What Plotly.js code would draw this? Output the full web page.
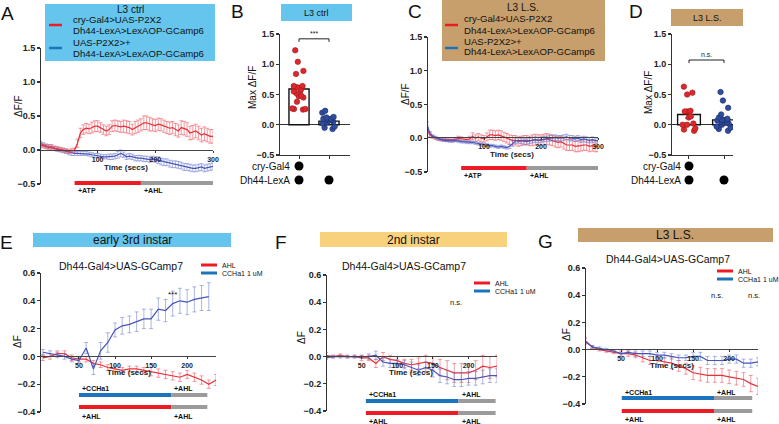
<!DOCTYPE html>
<html>
<head>
<meta charset="utf-8">
<script src="https://cdn.plot.ly/plotly-3.0.1.min.js"></script>
<style>html,body{margin:0;padding:0;background:#fff}#fig{width:779px;height:424px}</style>
</head>
<body>
<div id="fig"></div>
<script>
// ---- data ----
// A / C: time course, sampled every 5 s from 0 to 300 s
const tAC = Array.from({length: 61}, (_, i) => i * 5);

const aRed = [0.08,0.06,0.05,0.04,0.05,0.03,0.02,0.01,0.00,-0.01,-0.02,-0.01,0.00,
  0.10,0.25,0.30,0.32,0.31,0.33,0.35,0.35,0.33,0.30,
  0.28,0.30,0.35,0.36,0.35,0.34,0.35,0.34,0.33,0.30,
  0.33,0.35,0.37,0.40,0.40,0.38,0.37,0.36,0.38,0.37,
  0.35,0.33,0.32,0.33,0.30,0.28,0.33,0.32,0.30,0.25,
  0.26,0.28,0.25,0.22,0.24,0.22,0.20,0.20];
const aRedErr = [0.04,0.03,0.03,0.03,0.03,0.03,0.03,0.03,0.03,0.03,0.03,0.03,0.03,
  0.06,0.07,0.07,0.07,0.07,0.08,0.08,0.08,0.07,0.07,
  0.07,0.07,0.08,0.08,0.08,0.08,0.09,0.09,0.09,0.08,
  0.09,0.09,0.09,0.10,0.10,0.10,0.09,0.09,0.09,0.09,
  0.09,0.09,0.09,0.09,0.09,0.09,0.10,0.10,0.10,0.10,
  0.10,0.10,0.10,0.10,0.10,0.10,0.10,0.10];
const aBlue = [0.10,0.08,0.06,0.05,0.03,0.02,0.01,0.00,-0.01,-0.02,
  -0.04,-0.05,-0.05,-0.05,-0.05,-0.05,-0.05,-0.06,-0.07,-0.08,
  -0.08,-0.09,-0.10,-0.10,-0.10,-0.10,-0.09,-0.07,-0.05,-0.07,
  -0.10,-0.09,-0.10,-0.12,-0.12,-0.12,-0.13,-0.13,-0.14,-0.13,
  -0.14,-0.15,-0.17,-0.18,-0.18,-0.20,-0.21,-0.21,-0.22,-0.23,
  -0.25,-0.25,-0.26,-0.27,-0.27,-0.26,-0.25,-0.27,-0.26,-0.25,
  -0.24];
const aBlueErr = [0.03,0.03,0.03,0.03,0.03,0.03,0.03,0.03,0.03,0.03,
  0.03,0.03,0.03,0.03,0.03,0.03,0.03,0.03,0.03,0.03,
  0.03,0.03,0.03,0.03,0.04,0.04,0.04,0.05,0.05,0.04,
  0.04,0.04,0.04,0.04,0.04,0.04,0.04,0.04,0.04,0.04,
  0.04,0.05,0.05,0.05,0.05,0.05,0.05,0.05,0.05,0.05,
  0.05,0.05,0.05,0.05,0.05,0.05,0.05,0.05,0.05,0.05,
  0.05];

const cRed = [0.15,0.05,0.02,0.00,-0.01,-0.02,-0.02,-0.03,-0.03,-0.03,
  -0.02,0.00,-0.01,-0.02,-0.02,-0.01,0.03,0.00,0.02,0.00,
  -0.01,0.02,0.05,0.05,0.04,0.05,0.04,0.02,0.00,-0.02,
  -0.03,-0.03,-0.05,-0.04,-0.03,-0.03,-0.04,-0.03,-0.02,-0.03,
  -0.03,-0.02,-0.01,-0.02,-0.03,-0.05,-0.06,-0.05,-0.08,-0.10,
  -0.10,-0.10,-0.12,-0.12,-0.11,-0.10,-0.10,-0.12,-0.11,-0.12,
  -0.12];
const cRedErr = [0.04,0.03,0.02,0.02,0.02,0.02,0.02,0.02,0.02,0.02,
  0.02,0.03,0.03,0.03,0.03,0.04,0.05,0.05,0.05,0.05,
  0.05,0.06,0.07,0.07,0.07,0.07,0.07,0.07,0.07,0.07,
  0.07,0.07,0.07,0.07,0.07,0.07,0.07,0.08,0.08,0.08,
  0.08,0.08,0.08,0.08,0.08,0.08,0.08,0.08,0.08,0.08,
  0.08,0.08,0.08,0.08,0.08,0.08,0.08,0.08,0.08,0.08,
  0.08];
const cBlue = [0.20,0.08,0.03,0.01,-0.01,-0.02,-0.03,-0.03,-0.04,-0.04,
  -0.03,-0.04,-0.05,-0.05,-0.06,-0.06,-0.06,-0.07,-0.08,-0.09,
  -0.10,-0.10,-0.11,-0.11,-0.12,-0.13,-0.12,-0.13,-0.14,-0.12,
  -0.08,-0.04,-0.03,-0.04,-0.05,-0.05,-0.04,-0.03,-0.02,-0.03,
  -0.02,-0.01,-0.01,0.00,0.00,0.01,0.00,0.00,0.01,0.02,
  0.00,0.00,-0.01,0.00,-0.02,-0.01,-0.02,-0.03,-0.02,-0.03,
  -0.04];
const cBlueErr = [0.04,0.02,0.02,0.02,0.02,0.02,0.02,0.02,0.02,0.02,
  0.02,0.02,0.02,0.02,0.02,0.02,0.02,0.02,0.02,0.02,
  0.02,0.02,0.02,0.02,0.02,0.02,0.02,0.02,0.02,0.03,
  0.04,0.04,0.04,0.04,0.04,0.04,0.04,0.04,0.04,0.04,
  0.04,0.04,0.04,0.04,0.04,0.04,0.04,0.04,0.04,0.04,
  0.04,0.04,0.04,0.04,0.04,0.04,0.04,0.04,0.04,0.04,
  0.04];

// B / D: max dF/F per animal, bar = mean, error = SEM
const groups = [0, 1];
const bMean = [0.59, 0.06];
const bSem = [0.06, 0.02];
const bRed = [1.23,1.04,0.89,0.84,0.64,0.64,0.62,0.58,0.55,0.52,0.48,0.47,0.45,0.38,0.27,0.26,0.26,0.25];
const bBlue = [0.23,0.20,0.13,0.12,0.10,0.10,0.09,0.08,0.07,0.05,0.04,0.02,-0.03,-0.05,-0.07];
const dMean = [0.17, 0.08];
const dSem = [0.06, 0.04];
const dRed = [0.63,0.53,0.50,0.23,0.22,0.22,0.14,0.12,0.02,0.00,0.00,-0.06,-0.08,-0.10];
const dBlue = [0.54,0.40,0.28,0.17,0.12,0.10,0.08,0.08,0.07,0.05,0.04,0.03,0.02,0.00,-0.03,-0.05,-0.07,-0.10];
const genoRows = ['cry-Gal4', 'Dh44-LexA'];
const genoMatrix = [[1, 0], [1, 1]];

// E / F / G: every 10 s, 0..240 s
const tEFG = [0,10,20,30,40,50,60,70,80,90,100,110,120,130,140,150,160,170,180,190,200,210,220,230,240];
const eRed = [-0.01,0.00,0.02,0.02,-0.01,-0.02,-0.02,-0.05,-0.06,-0.08,-0.09,-0.10,-0.09,-0.09,-0.10,-0.11,-0.12,-0.13,-0.14,-0.15,-0.13,-0.15,-0.17,-0.20,-0.17];
const eRedErr = [0.02,0.02,0.02,0.02,0.02,0.02,0.02,0.02,0.02,0.02,0.02,0.02,0.02,0.02,0.02,0.03,0.03,0.03,0.03,0.03,0.03,0.03,0.03,0.03,0.04];
const eBlue = [0.03,0.02,0.01,0.00,-0.02,-0.03,0.06,-0.09,0.04,0.10,0.19,0.22,0.23,0.25,0.27,0.27,0.34,0.33,0.38,0.40,0.39,0.41,0.42,0.43,null];
const eBlueErr = [0.02,0.02,0.02,0.02,0.02,0.02,0.04,0.04,0.06,0.07,0.05,0.06,0.06,0.07,0.07,0.07,0.08,0.08,0.09,0.09,0.09,0.09,0.09,0.10,null];
const fRed = [0.01,0.00,0.01,0.00,0.00,-0.01,-0.01,-0.05,0.00,-0.02,-0.03,-0.05,-0.06,-0.05,-0.04,-0.05,-0.08,-0.10,-0.12,-0.12,-0.12,-0.10,-0.07,-0.08,-0.07];
const fRedErr = [0.02,0.01,0.01,0.01,0.01,0.02,0.02,0.03,0.03,0.03,0.03,0.03,0.04,0.04,0.05,0.05,0.06,0.07,0.07,0.07,0.07,0.07,0.08,0.08,0.08];
const fBlue = [-0.01,0.00,0.00,0.00,0.00,0.00,0.00,0.01,-0.04,-0.05,-0.05,-0.06,-0.08,-0.10,-0.08,-0.10,-0.14,-0.15,-0.17,-0.17,-0.16,-0.16,-0.15,-0.14,-0.14];
const fBlueErr = [0.01,0.01,0.01,0.01,0.01,0.01,0.02,0.03,0.03,0.03,0.03,0.03,0.04,0.04,0.04,0.05,0.05,0.05,0.05,0.05,0.05,0.05,0.05,0.05,0.05];
const gRed = [0.07,0.02,0.00,-0.01,-0.02,-0.03,-0.03,-0.04,-0.06,-0.08,-0.08,-0.09,-0.10,-0.12,-0.14,-0.17,-0.18,-0.19,-0.19,-0.19,-0.20,-0.21,-0.22,-0.25,-0.27];
const gRedErr = [0.02,0.01,0.01,0.01,0.01,0.02,0.02,0.02,0.03,0.03,0.03,0.03,0.04,0.04,0.04,0.05,0.05,0.05,0.05,0.05,0.05,0.05,0.05,0.06,0.06];
const gBlue = [0.06,0.02,0.01,0.00,-0.01,-0.03,-0.02,-0.03,-0.03,-0.03,-0.04,-0.04,-0.05,-0.06,-0.06,-0.05,-0.05,-0.08,-0.08,-0.08,-0.07,-0.07,-0.10,-0.10,-0.09];
const gBlueErr = [0.02,0.01,0.01,0.01,0.01,0.01,0.01,0.02,0.02,0.02,0.02,0.02,0.02,0.02,0.02,0.03,0.03,0.03,0.03,0.03,0.03,0.03,0.03,0.03,0.03];

// stimulus windows (s)
const stimAC = [60, 175, 300];
const stimE = [50, 178, 228];
const stimF = [56, 186, 238];
const stimG = [51, 179, 232];

// ---- helpers ----
const W = 779, H = 424;
const FONT = 'Liberation Sans, Arial, Helvetica, sans-serif';
const px = v => v / W;
const py = v => 1 - v / H;
const hdom = (a, b) => [a / W, b / W];
const vdom = (top, bot) => [1 - bot / H, 1 - top / H];

const RED = '#e8303a', RED_ERR = 'rgba(238,90,100,0.6)';
const BLUE = '#4654b8', BLUE_ERR = 'rgba(105,120,205,0.55)';
const LEG_RED = '#ed1c24', LEG_BLUE = '#1c75bc', GREY = '#9b9b9b';
const SKY = '#66c5ec', TAN = '#c79f6d', SAND = '#f8d17c';

function yAx(domain, range, xpos, tickvals) {
  return {domain: domain, range: range, anchor: 'free', position: px(xpos), tickvals: tickvals,
    tickformat: '.1f', ticks: 'outside', ticklen: 3, tickwidth: 1.2, tickcolor: '#333',
    showline: true, linecolor: '#333', linewidth: 1.3, showgrid: false, zeroline: false,
    tickfont: {family: FONT, size: 9, color: '#222', weight: 'bold'}};
}
function xTime(domain, range, ypos, tickvals) {
  return {domain: domain, range: range, anchor: 'free', position: py(ypos), tickvals: tickvals,
    ticks: 'outside', ticklen: 2, tickwidth: 1, tickcolor: '#333',
    showline: true, linecolor: '#444', linewidth: 1.2, showgrid: false, zeroline: false,
    tickfont: {family: FONT, size: 7, color: '#222', weight: 'bold'}};
}
function xBar(domain, range, yname) {
  return {domain: domain, range: range, anchor: yname, tickvals: groups, showticklabels: false,
    ticks: 'outside', ticklen: 3, tickcolor: '#333', showline: true, linecolor: '#333',
    linewidth: 1.3, showgrid: false, zeroline: false};
}
function trace(t, y, err, color, errColor, xa, ya) {
  return {type: 'scatter', mode: 'lines', x: t, y: y, xaxis: xa, yaxis: ya,
    line: {color: color, width: 1.2}, showlegend: false, hoverinfo: 'skip',
    error_y: {type: 'data', array: err, color: errColor, thickness: 1, width: 2}};
}
function dots(vals, x0, fill, edge, xa, ya) {
  return {type: 'box', y: vals, x0: x0, xaxis: xa, yaxis: ya, boxpoints: 'all', jitter: 0.9,
    pointpos: 0, width: 0.62, fillcolor: 'rgba(0,0,0,0)', line: {color: 'rgba(0,0,0,0)', width: 0},
    marker: {color: fill, size: 5.5, line: {color: edge, width: 0.6}},
    showlegend: false, hoverinfo: 'skip'};
}
function bars(mean, sem, xa, ya, w) {
  return {type: 'bar', x: groups, y: mean, width: w, xaxis: xa, yaxis: ya,
    marker: {color: '#fff', line: {color: '#111', width: 1.4}}, showlegend: false, hoverinfo: 'skip',
    error_y: {type: 'data', array: sem, color: '#444', thickness: 1, width: 4}};
}
function geno(xa, ya) {
  const xs = [], ys = [];
  genoMatrix.forEach((row, r) => row.forEach((on, g) => {
    if (on) { xs.push(groups[g]); ys.push(genoMatrix.length - 1 - r); }
  }));
  return {type: 'scatter', mode: 'markers', x: xs, y: ys, xaxis: xa, yaxis: ya,
    marker: {color: '#000', size: 9}, showlegend: false, hoverinfo: 'skip'};
}

const traces = [
  trace(tAC, aBlue, aBlueErr, BLUE, BLUE_ERR, 'x', 'y'),
  trace(tAC, aRed, aRedErr, RED, RED_ERR, 'x', 'y'),
  bars(bMean, bSem, 'x2', 'y2', 0.67),
  dots(bRed, 0, '#e0262c', '#9b1b1b', 'x2', 'y2'),
  dots(bBlue, 1, '#2f4d9e', '#1b2c66', 'x2', 'y2'),
  geno('x2', 'y8'),
  trace(tAC, cRed, cRedErr, RED, RED_ERR, 'x3', 'y3'),
  trace(tAC, cBlue, cBlueErr, BLUE, BLUE_ERR, 'x3', 'y3'),
  bars(dMean, dSem, 'x4', 'y4', 0.65),
  dots(dRed, 0, '#e0262c', '#9b1b1b', 'x4', 'y4'),
  dots(dBlue, 1, '#2f4d9e', '#1b2c66', 'x4', 'y4'),
  geno('x4', 'y9'),
  trace(tEFG, eRed, eRedErr, RED, RED_ERR, 'x5', 'y5'),
  trace(tEFG, eBlue, eBlueErr, BLUE, BLUE_ERR, 'x5', 'y5'),
  trace(tEFG, fRed, fRedErr, RED, RED_ERR, 'x6', 'y6'),
  trace(tEFG, fBlue, fBlueErr, BLUE, BLUE_ERR, 'x6', 'y6'),
  trace(tEFG, gRed, gRedErr, RED, RED_ERR, 'x7', 'y7'),
  trace(tEFG, gBlue, gBlueErr, BLUE, BLUE_ERR, 'x7', 'y7')
];

const shapes = [];
const ann = [];
function rect(x0, y0, x1, y1, color) {
  shapes.push({type: 'rect', xref: 'paper', yref: 'paper', x0: px(x0), x1: px(x1), y0: py(y1), y1: py(y0),
    fillcolor: color, line: {width: 0}, layer: 'below'});
}
function hline(x0, x1, y, color, w) {
  shapes.push({type: 'line', xref: 'paper', yref: 'paper', x0: px(x0), x1: px(x1), y0: py(y), y1: py(y),
    line: {color: color, width: w}});
}
function txt(x, y, text, size, extra) {
  ann.push(Object.assign({xref: 'paper', yref: 'paper', x: px(x), y: py(y), text: text, showarrow: false,
    xanchor: 'center', yanchor: 'middle', font: {family: FONT, size: size, color: '#111'}}, extra || {}));
}
function stim(xa, times, yPx, colors, labels, labelY) {
  for (let i = 0; i < 2; i++) {
    shapes.push({type: 'line', xref: xa, yref: 'paper', x0: times[i], x1: times[i + 1],
      y0: py(yPx), y1: py(yPx), line: {color: colors[i], width: 4}});
    ann.push({xref: xa, yref: 'paper', x: times[i], y: py(labelY), text: labels[i], showarrow: false,
      xanchor: 'left', yanchor: 'middle', xshift: 1, font: {family: FONT, size: 7, color: '#111', weight: 'bold'}});
  }
}
function bracket(xa, ya, top, mark) {
  shapes.push({type: 'path', xref: xa, yref: ya,
    path: 'M ' + groups[0] + ',' + (top - 0.05) + ' L ' + groups[0] + ',' + top + ' L ' + groups[1] + ',' + top + ' L ' + groups[1] + ',' + (top - 0.05),
    line: {color: '#222', width: 1}});
  ann.push({xref: xa, yref: ya, x: (groups[0] + groups[1]) / 2, y: top, yanchor: 'bottom', text: mark,
    showarrow: false, font: {family: FONT, size: 7, color: '#222'}});
}

// panel letters
[['A', 7, 13], ['B', 238, 12], ['C', 415, 12], ['D', 636, 12], ['E', 6, 242], ['F', 281, 242], ['G', 545, 241]]
  .forEach(l => txt(l[1], l[2], l[0], 19));

// A legend box
rect(45, 4, 215, 61, SKY);
txt(130, 9, 'L3 ctrl', 10);
hline(49, 62, 25, LEG_RED, 2.5);
hline(49, 62, 48, LEG_BLUE, 2.5);
txt(71, 20, 'cry-Gal4>UAS-P2X2', 9.6, {xanchor: 'left'});
txt(71, 31, 'Dh44-LexA>LexAOP-GCamp6', 9.6, {xanchor: 'left'});
txt(71, 42, 'UAS-P2X2>+', 9.6, {xanchor: 'left'});
txt(71, 53, 'Dh44-LexA>LexAOP-GCamp6', 9.6, {xanchor: 'left'});
// C legend box
rect(442, 0, 605, 61, TAN);
txt(523, 8, 'L3 L.S.', 10);
hline(445, 458, 25, LEG_RED, 2.5);
hline(445, 458, 48, LEG_BLUE, 2.5);
txt(462, 19, 'cry-Gal4>UAS-P2X2', 9.6, {xanchor: 'left'});
txt(462, 30, 'Dh44-LexA>LexAOP-GCamp6', 9.6, {xanchor: 'left'});
txt(462, 41, 'UAS-P2X2>+', 9.6, {xanchor: 'left'});
txt(462, 52, 'Dh44-LexA>LexAOP-GCamp6', 9.6, {xanchor: 'left'});
// B / D title boxes
rect(281, 4, 352, 21, SKY);
txt(316, 13, 'L3 ctrl', 9);
rect(671, 9, 743, 26, TAN);
txt(707, 18, 'L3 L.S.', 9);
// E/F/G title boxes
rect(33, 233, 231, 247, SKY);
txt(132, 240, 'early 3rd instar', 12);
rect(320, 232, 507, 247, SAND);
txt(413, 240, '2nd instar', 12);
rect(578, 228, 773, 242, TAN);
txt(675, 235, 'L3 L.S.', 12);
txt(121, 266, 'Dh44-Gal4>UAS-GCamp7', 10.5);
txt(404, 266, 'Dh44-Gal4>UAS-GCamp7', 10.5);
txt(668, 259, 'Dh44-Gal4>UAS-GCamp7', 10.5);

// E/F/G legends
function legEFG(x0, y0) {
  hline(x0, x0 + 16, y0, LEG_RED, 3);
  hline(x0, x0 + 16, y0 + 8, LEG_BLUE, 3);
  txt(x0 + 19, y0, 'AHL', 7, {xanchor: 'left'});
  txt(x0 + 19, y0 + 8, 'CCHa1 1 uM', 7, {xanchor: 'left'});
}
legEFG(201, 265);
legEFG(474, 283);
legEFG(717, 271);

// axis titles
txt(18, 106, 'ΔF/F', 10, {textangle: -90});
txt(405, 94, 'ΔF/F', 10, {textangle: -90});
txt(253, 88, 'Max ΔF/F', 10, {textangle: -90});
txt(649, 93, 'Max ΔF/F', 10, {textangle: -90});
txt(17, 342, 'ΔF', 10, {textangle: -90});
txt(301, 338, 'ΔF', 10, {textangle: -90});
txt(566, 335, 'ΔF', 10, {textangle: -90});
const tfont = {font: {family: FONT, size: 8, color: '#222', weight: 'bold'}};
txt(126, 167, 'Time (secs)', 8, tfont);
txt(512, 154, 'Time (secs)', 8, tfont);
txt(129, 372, 'Time (secs)', 8, tfont);
txt(411, 372, 'Time (secs)', 8, tfont);
txt(672, 365, 'Time (secs)', 8, tfont);

// genotype labels
genoRows.forEach((g, r) => {
  const yv = genoRows.length - 1 - r;
  ann.push({xref: 'paper', yref: 'y8', x: px(292), y: yv, text: g, showarrow: false, xanchor: 'right',
    font: {family: FONT, size: 10, color: '#111'}});
  ann.push({xref: 'paper', yref: 'y9', x: px(683), y: yv, text: g, showarrow: false, xanchor: 'right',
    font: {family: FONT, size: 10, color: '#111'}});
});

// significance
bracket('x2', 'y2', 1.42, '***');
bracket('x4', 'y4', 1.07, 'n.s.');
txt(172, 294, '***', 8);
txt(456, 302, 'n.s.', 7.5);
txt(717, 295, 'n.s.', 7.5);
txt(754, 295, 'n.s.', 7.5);

// stimulus bars
stim('x', stimAC, 183, [LEG_RED, GREY], ['+ATP', '+AHL'], 190);
stim('x3', stimAC, 168, [LEG_RED, GREY], ['+ATP', '+AHL'], 175);
stim('x5', stimE, 395, [LEG_BLUE, GREY], ['+CCHa1', '+AHL'], 388);
stim('x5', stimE, 407, [LEG_RED, GREY], ['+AHL', '+AHL'], 416);
stim('x6', stimF, 401, [LEG_BLUE, GREY], ['+CCHa1', '+AHL'], 394);
stim('x6', stimF, 413, [LEG_RED, GREY], ['+AHL', '+AHL'], 421);
stim('x7', stimG, 398, [LEG_BLUE, GREY], ['+CCHa1', '+AHL'], 392);
stim('x7', stimG, 411, [LEG_RED, GREY], ['+AHL', '+AHL'], 419);

const ticksBig = [-0.5, 0, 0.5, 1, 1.5];
const ticksSmall = [-0.4, -0.2, 0, 0.2, 0.4, 0.6];
const y2 = yAx(vdom(34, 155), [-0.5, 1.5], 279, ticksBig);
y2.zeroline = true; y2.zerolinecolor = '#333'; y2.zerolinewidth = 1.3;
const y4 = yAx(vdom(34, 155), [-0.5, 1.5], 671, ticksBig);
y4.zeroline = true; y4.zerolinecolor = '#333'; y4.zerolinewidth = 1.3;

const layout = {
  width: W, height: H, margin: {l: 0, r: 0, t: 0, b: 0},
  paper_bgcolor: '#fff', plot_bgcolor: 'rgba(0,0,0,0)',
  showlegend: false, hovermode: false, boxmode: 'overlay', barmode: 'overlay',
  font: {family: FONT},
  xaxis: xTime(hdom(40, 213), [0, 300], 150, [100, 200, 300]),
  yaxis: yAx(vdom(48, 184), [-0.5, 1.5], 40, ticksBig),
  xaxis2: xBar(hdom(279, 350), [-0.667, 1.7], 'y2'),
  yaxis2: y2,
  xaxis3: xTime(hdom(427, 598), [0, 300], 137, [100, 200, 300]),
  yaxis3: yAx(vdom(37, 172), [-0.5, 1.5], 427, ticksBig),
  xaxis4: xBar(hdom(671, 733), [-0.514, 1.257], 'y4'),
  yaxis4: y4,
  xaxis5: xTime(hdom(40, 216), [-4, 240], 356, [50, 100, 150, 200]),
  yaxis5: yAx(vdom(273, 412), [-0.4, 0.6], 40, ticksSmall),
  xaxis6: xTime(hdom(326, 497), [0, 240], 356, [50, 100, 150, 200]),
  yaxis6: yAx(vdom(275, 411), [-0.4, 0.6], 326, ticksSmall),
  xaxis7: xTime(hdom(585, 758), [0, 240], 349, [50, 100, 150, 200]),
  yaxis7: yAx(vdom(268, 404), [-0.4, 0.6], 585, ticksSmall),
  yaxis8: {domain: vdom(159, 187), range: [-0.5, 1.5], anchor: 'x2', visible: false},
  yaxis9: {domain: vdom(159, 187), range: [-0.5, 1.5], anchor: 'x4', visible: false},
  shapes: shapes,
  annotations: ann
};

Plotly.newPlot('fig', traces, layout, {staticPlot: true, displayModeBar: false});
</script>
</body>
</html>
